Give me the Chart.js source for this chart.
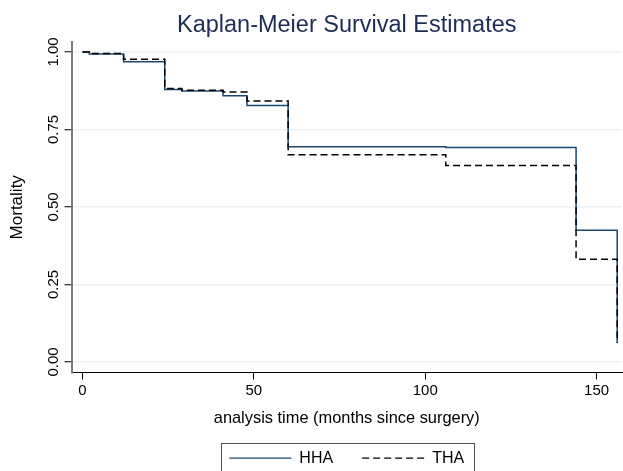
<!DOCTYPE html>
<html>
<head>
<meta charset="utf-8">
<script src="https://cdn.jsdelivr.net/npm/chart.js@4/dist/chart.umd.min.js"></script>
<style>
  html, body { margin: 0; padding: 0; background: #ffffff; }
  #wrap { width: 623px; height: 471px; position: relative; }
</style>
</head>
<body>
<div id="wrap"><canvas id="c" width="623" height="471"></canvas></div>
<script>
// ---- data ----
const seriesNames = ["HHA", "THA"];
const hhaTimes  = [0, 2, 12, 24, 29, 41, 48, 60, 106, 144, 156];
const hhaValues = [1.000, 0.993, 0.968, 0.879, 0.874, 0.859, 0.827, 0.694, 0.692, 0.425, 0.061];
const thaTimes  = [0, 2, 12, 24, 29, 41, 48, 60, 106, 144, 156];
const thaValues = [1.000, 0.995, 0.976, 0.882, 0.876, 0.871, 0.842, 0.668, 0.634, 0.331, 0.061];
const xTickValues = [0, 50, 100, 150];
const yTickValues = [0, 0.25, 0.50, 0.75, 1.00];
const chartTitle = "Kaplan-Meier Survival Estimates";
const xTitle = "analysis time (months since surgery)";
const yTitle = "Mortality";

const toPoints = (xs, ys) => xs.map((x, i) => ({ x: x, y: ys[i] }));
const FONT = "'Liberation Sans', Arial, Helvetica, sans-serif";
const LEGEND_FONT_SIZE = 16;

// legend: small upward nudge and a framed box around the items
const legendAdjust = {
  id: 'legendAdjust',
  afterLayout(chart) {
    const lg = chart.legend;
    if (!lg) return;
    const dy = -6.8;
    lg.top += dy; lg.bottom += dy;
  },
  afterDraw(chart) {
    const lg = chart.legend;
    if (!lg || !lg.lineWidths) return;
    const pad = lg.options.labels.padding;
    const lw = lg.lineWidths[0];
    const startX = ((lg.left + pad) + (lg.right - lw)) / 2;
    const endX = startX + lw - pad;
    const cy = lg.top + pad + LEGEND_FONT_SIZE / 2;
    const ctx = chart.ctx;
    ctx.save();
    ctx.strokeStyle = '#555555';
    ctx.lineWidth = 1;
    ctx.setLineDash([]);
    ctx.strokeRect(Math.round(startX - 8) + 0.5, Math.round(cy - 15) + 0.5, Math.round(endX - startX + 18), 40);
    ctx.restore();
  }
};

new Chart(document.getElementById('c'), {
  type: 'line',
  data: {
    datasets: [
      {
        label: seriesNames[0],
        data: toPoints(hhaTimes, hhaValues),
        borderColor: '#1a476f',
        backgroundColor: '#1a476f',
        borderWidth: 1.5,
        stepped: true,
        pointRadius: 0,
        fill: false,
        order: 1
      },
      {
        label: seriesNames[1],
        data: toPoints(thaTimes, thaValues),
        borderColor: '#000000',
        backgroundColor: '#000000',
        borderWidth: 1.5,
        borderDash: [7, 4],
        stepped: true,
        pointRadius: 0,
        fill: false,
        order: 0
      }
    ]
  },
  options: {
    responsive: false,
    animation: false,
    devicePixelRatio: 1,
    layout: { padding: { left: 0, right: 1, top: 0, bottom: 0 } },
    plugins: {
      title: {
        display: true,
        fullSize: false,
        text: chartTitle,
        color: '#1c2c55',
        font: { family: FONT, size: 23.5, weight: 'normal' },
        padding: { top: 11, bottom: 2.8 }
      },
      legend: {
        display: true,
        fullSize: false,
        position: 'bottom',
        maxHeight: 43,
        labels: {
          usePointStyle: true,
          pointStyle: 'line',
          pointStyleWidth: 62,
          padding: 29,
          color: '#000000',
          font: { family: FONT, size: LEGEND_FONT_SIZE },
          sort: (a, b) => a.datasetIndex - b.datasetIndex,
          generateLabels: (chart) => {
            const items = Chart.defaults.plugins.legend.labels.generateLabels(chart);
            items.forEach(it => {
              const ds = chart.data.datasets[it.datasetIndex];
              it.lineDash = ds.borderDash || [];
              it.strokeStyle = ds.borderColor;
              it.fillStyle = ds.borderColor;
              it.lineWidth = 1.3;
              it.pointStyle = 'line';
            });
            return items;
          }
        }
      },
      tooltip: { enabled: false }
    },
    scales: {
      x: {
        type: 'linear',
        min: -3.2,
        max: 157.4,
        afterBuildTicks: (scale) => { scale.ticks = xTickValues.map(v => ({ value: v })); },
        ticks: {
          color: '#000000',
          font: { family: FONT, size: 15 },
          padding: 2.7,
          maxRotation: 0,
          autoSkip: false,
          callback: (v) => String(v)
        },
        grid: {
          display: true,
          drawOnChartArea: false,
          drawTicks: true,
          tickLength: 7,
          tickColor: '#000000',
          tickWidth: 1
        },
        border: { display: true, color: '#000000', width: 1 },
        title: {
          display: true,
          text: xTitle,
          color: '#000000',
          font: { family: FONT, size: 16.4 },
          padding: { top: 5.4, bottom: 0 }
        }
      },
      y: {
        type: 'linear',
        min: -0.034,
        max: 1.032,
        afterBuildTicks: (scale) => { scale.ticks = yTickValues.map(v => ({ value: v })); },
        afterFit: (scale) => { scale.width = 71.5; },
        ticks: {
          color: '#000000',
          font: { family: FONT, size: 15 },
          padding: -4,
          minRotation: 90,
          maxRotation: 90,
          crossAlign: 'center',
          autoSkip: false,
          callback: (v) => Number(v).toFixed(2)
        },
        grid: {
          display: true,
          drawOnChartArea: true,
          color: '#e9f1f3',
          lineWidth: 1.5,
          drawTicks: true,
          tickLength: 7,
          tickColor: '#000000',
          tickWidth: 1
        },
        border: { display: true, color: '#7a7a7a', width: 2 },
        title: {
          display: true,
          text: yTitle,
          color: '#000000',
          font: { family: FONT, size: 17 },
          padding: { top: 7, bottom: 0 }
        }
      }
    }
  },
  plugins: [legendAdjust]
});
</script>
</body>
</html>
